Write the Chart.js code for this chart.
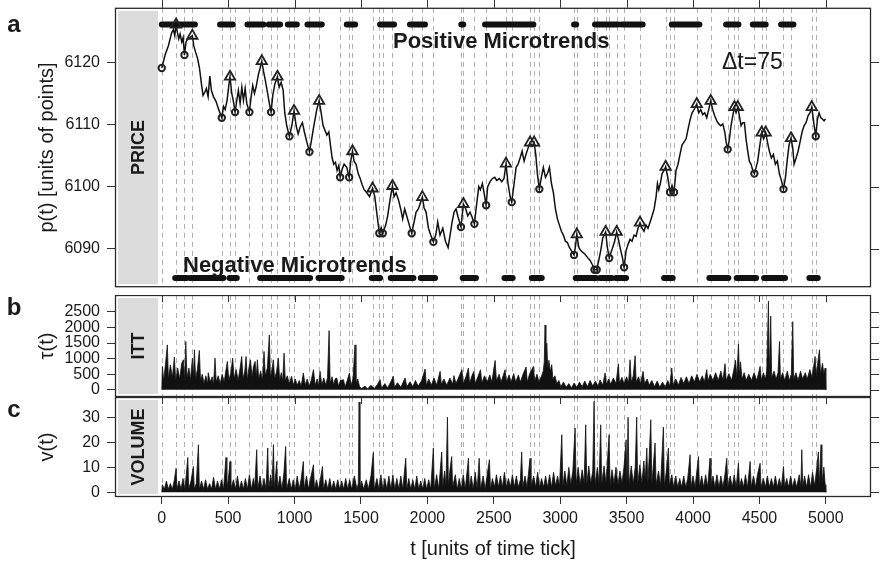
<!DOCTYPE html>
<html>
<head>
<meta charset="utf-8">
<script src="https://cdn.jsdelivr.net/npm/chart.js@4.4.1/dist/chart.umd.min.js"></script>
<style>
  html, body { margin: 0; padding: 0; background: #fff; }
  #wrap { position: relative; width: 882px; height: 564px; overflow: hidden; }
  #wrap canvas { position: absolute; left: 0; }
</style>
</head>
<body>
<div id="wrap">
  <canvas id="cPrice" width="882" height="295" style="top:0px"></canvas>
  <canvas id="cItt" width="882" height="102" style="top:295px"></canvas>
  <canvas id="cVol" width="882" height="167" style="top:397px"></canvas>
</div>
<script>
// ---- time axis ----
const timeTicks = [0, 500, 1000, 1500, 2000, 2500, 3000, 3500, 4000, 4500, 5000];
const T_MIN = -352, T_MAX = 5340;

// ---- price p(t) ----
const priceTicks = [6090, 6100, 6110, 6120];
const PRICE_MIN = 6083.8, PRICE_MAX = 6128.8;
const pricePath = [
  [0,6119.1],[25,6121.2],[50,6122.7],[63,6123.8],[75,6124.8],[88,6125.3],[98,6124.3],[108,6126.1],
  [118,6124.8],[128,6123.8],[138,6124.6],[151,6123.3],[161,6124.0],[171,6121.2],[183,6123.3],[196,6123.8],
  [213,6124.0],[230,6124.3],[241,6122.7],[254,6121.7],[269,6120.7],[284,6119.1],[299,6116.5],[311,6114.7],
  [324,6115.2],[336,6115.8],[349,6114.5],[362,6117.8],[374,6115.5],[389,6114.5],[409,6113.7],[429,6112.4],
  [452,6111.1],[465,6112.9],[477,6112.4],[492,6113.9],[505,6116.3],[514,6117.7],[527,6115.0],[540,6113.7],
  [552,6112.0],[565,6113.9],[577,6115.5],[590,6113.4],[603,6116.0],[615,6113.9],[628,6115.8],[640,6113.4],
  [660,6112.0],[673,6114.5],[685,6116.3],[698,6115.0],[710,6116.0],[728,6118.1],[741,6119.1],[753,6120.2],
  [766,6118.6],[778,6117.3],[791,6115.8],[806,6113.9],[823,6112.0],[836,6114.7],[851,6116.5],[871,6117.7],
  [884,6116.0],[899,6116.8],[914,6115.5],[926,6111.9],[941,6109.8],[961,6108.1],[979,6109.8],[996,6112.2],
  [1012,6109.8],[1027,6108.5],[1042,6109.6],[1059,6110.3],[1074,6108.8],[1092,6107.2],[1112,6105.6],[1130,6107.8],
  [1145,6109.8],[1167,6112.4],[1185,6113.8],[1200,6111.9],[1215,6109.8],[1230,6109.0],[1243,6108.3],[1258,6108.8],
  [1270,6106.7],[1283,6104.6],[1295,6103.6],[1308,6103.9],[1320,6102.6],[1333,6103.4],[1343,6101.5],[1358,6102.8],
  [1373,6103.6],[1393,6103.1],[1411,6101.5],[1423,6104.1],[1436,6105.7],[1448,6104.1],[1463,6103.6],[1479,6102.1],
  [1494,6101.3],[1509,6100.3],[1524,6099.5],[1544,6099.0],[1564,6098.4],[1587,6099.7],[1604,6098.4],[1620,6095.6],
  [1638,6092.5],[1652,6093.4],[1664,6092.5],[1686,6093.8],[1701,6095.3],[1719,6097.9],[1737,6100.1],[1749,6098.4],
  [1764,6099.0],[1782,6097.9],[1799,6096.4],[1814,6094.8],[1829,6096.4],[1844,6095.3],[1864,6093.8],[1882,6092.5],
  [1900,6094.3],[1915,6095.9],[1932,6096.4],[1945,6097.2],[1962,6098.3],[1975,6096.6],[1990,6095.9],[2008,6093.3],
  [2025,6092.2],[2045,6091.1],[2063,6092.2],[2078,6094.3],[2095,6092.2],[2116,6093.3],[2136,6091.2],[2156,6090.2],
  [2171,6092.2],[2186,6094.3],[2201,6095.9],[2216,6096.4],[2231,6095.1],[2253,6093.5],[2271,6097.2],[2289,6096.4],
  [2304,6095.3],[2321,6095.9],[2336,6095.1],[2354,6094.0],[2372,6097.4],[2387,6100.0],[2399,6099.5],[2414,6100.5],
  [2427,6099.0],[2442,6097.0],[2454,6100.0],[2472,6100.8],[2489,6101.3],[2507,6101.5],[2522,6101.0],[2542,6101.3],
  [2560,6100.8],[2577,6101.3],[2592,6103.7],[2607,6100.5],[2623,6098.4],[2635,6097.5],[2653,6100.5],[2668,6103.1],
  [2683,6103.6],[2698,6104.6],[2713,6105.7],[2728,6104.1],[2743,6105.2],[2758,6106.2],[2773,6107.1],[2788,6106.5],
  [2803,6107.1],[2816,6105.2],[2828,6102.1],[2843,6099.6],[2858,6101.5],[2873,6103.1],[2889,6101.5],[2904,6102.1],
  [2919,6103.1],[2934,6100.5],[2949,6099.0],[2964,6096.4],[2979,6094.8],[2994,6093.8],[3009,6092.8],[3024,6092.2],
  [3039,6091.2],[3054,6091.0],[3069,6090.2],[3084,6089.7],[3104,6089.0],[3114,6090.2],[3125,6092.3],[3140,6090.2],
  [3155,6089.7],[3170,6089.4],[3187,6089.1],[3205,6088.6],[3225,6088.1],[3245,6087.3],[3258,6086.6],[3275,6086.6],
  [3290,6088.1],[3305,6089.7],[3320,6091.7],[3342,6092.7],[3355,6090.2],[3369,6088.5],[3395,6090.2],[3410,6091.2],
  [3425,6092.7],[3441,6091.2],[3456,6089.7],[3468,6088.6],[3481,6087.0],[3496,6089.7],[3511,6090.7],[3526,6091.5],
  [3541,6091.2],[3556,6092.2],[3571,6092.0],[3586,6093.3],[3601,6094.2],[3616,6093.3],[3631,6092.8],[3646,6093.8],
  [3661,6093.3],[3677,6094.3],[3692,6095.3],[3707,6096.4],[3722,6098.4],[3732,6100.5],[3742,6099.5],[3754,6100.5],
  [3767,6102.1],[3782,6102.6],[3794,6103.2],[3810,6101.5],[3827,6099.1],[3842,6100.2],[3857,6099.1],[3872,6102.6],
  [3887,6103.6],[3902,6105.2],[3917,6106.7],[3933,6107.2],[3948,6107.7],[3963,6109.3],[3978,6110.8],[3993,6111.9],
  [4008,6112.4],[4028,6113.3],[4043,6111.9],[4058,6112.4],[4073,6111.6],[4088,6111.9],[4103,6111.1],[4118,6112.4],
  [4133,6113.8],[4148,6112.4],[4163,6111.4],[4179,6110.6],[4194,6110.1],[4209,6109.8],[4224,6110.1],[4239,6108.8],
  [4249,6107.2],[4261,6106.0],[4274,6107.7],[4286,6109.8],[4299,6111.4],[4312,6112.8],[4324,6111.9],[4337,6112.8],
  [4349,6111.4],[4362,6109.8],[4374,6110.3],[4387,6110.3],[4399,6107.7],[4412,6105.7],[4424,6104.1],[4437,6103.6],
  [4450,6102.6],[4462,6102.1],[4475,6103.1],[4487,6104.1],[4500,6106.2],[4517,6108.7],[4532,6107.7],[4547,6108.7],
  [4560,6107.2],[4575,6105.7],[4590,6104.6],[4605,6105.2],[4620,6103.6],[4635,6104.1],[4650,6102.1],[4665,6101.0],
  [4681,6099.6],[4696,6101.5],[4711,6104.6],[4723,6106.7],[4738,6107.8],[4751,6106.2],[4761,6103.6],[4776,6104.6],
  [4791,6105.7],[4806,6107.2],[4821,6108.8],[4836,6109.8],[4851,6110.3],[4866,6111.4],[4881,6111.9],[4894,6112.8],
  [4909,6110.3],[4924,6108.1],[4937,6110.9],[4949,6111.9],[4962,6111.1],[4974,6110.9],[4987,6110.6],[4997,6110.9]
];

// local maxima (triangles) and minima (circles) of the price
const priceMaxima = [
  [108,6126.1],[230,6124.3],[514,6117.7],[753,6120.2],[871,6117.7],[996,6112.2],[1185,6113.8],[1436,6105.7],
  [1587,6099.7],[1737,6100.1],[1962,6098.3],[2271,6097.2],[2592,6103.7],[2773,6107.1],[2803,6107.1],[3125,6092.3],
  [3342,6092.7],[3425,6092.7],[3601,6094.2],[3794,6103.2],[4028,6113.3],[4133,6113.8],[4312,6112.8],[4337,6112.8],
  [4517,6108.7],[4547,6108.7],[4738,6107.8],[4894,6112.8]
];
const priceMinima = [
  [0,6119.1],[171,6121.2],[452,6111.1],[552,6112.0],[660,6112.0],[823,6112.0],[961,6108.1],[1112,6105.6],
  [1343,6101.5],[1411,6101.5],[1638,6092.5],[1664,6092.5],[1882,6092.5],[2045,6091.1],[2253,6093.5],[2354,6094.0],
  [2442,6097.0],[2635,6097.5],[2843,6099.6],[3104,6089.0],[3258,6086.6],[3275,6086.6],[3369,6088.5],[3481,6087.0],
  [3827,6099.1],[3857,6099.1],[4261,6106.0],[4462,6102.1],[4681,6099.6],[4924,6108.1]
];

// microtrend intervals [start, end] and the price levels their bars are drawn at
const positiveTrends = [
  [0,250],[439,535],[645,766],[806,891],[949,1017],[1097,1205],[1393,1456],[1644,1749],[1869,1982],
  [2255,2270],[2434,2610],[2616,2798],[3104,3120],[3262,3438],[3463,3621],[3840,4048],[4249,4342],
  [4450,4547],[4663,4756]
];
const negativeTrends = [
  [101,188],[213,464],[510,565],[741,841],[854,979],[992,1117],[1180,1355],[1581,1644],[1724,1895],
  [1950,2058],[2266,2366],[2580,2642],[2786,2861],[3117,3270],[3300,3388],[3420,3496],[3782,3847],
  [4123,4266],[4329,4475],[4535,4693],[4876,4939]
];
const POS_LEVEL = 6126.1, NEG_LEVEL = 6085.3;

// ---- inter-trade time tau(t) ----
const ittTicks = [0, 500, 1000, 1500, 2000, 2500];
const ITT_MIN = -229, ITT_MAX = 3041;
const ittSamples = [
  [0,0],[5,750],[15,300],[30,900],[42,1442],[50,350],[65,800],[80,400],[95,1050],[105,300],[120,700],[135,350],
  [150,850],[163,964],[172,300],[181,1549],[190,400],[205,700],[215,300],[231,1017],[238,400],[246,1283],[255,350],
  [268,650],[283,1262],[292,300],[305,500],[318,200],[332,450],[345,180],[350,550],[365,250],[380,420],[390,150],
  [401,1017],[410,250],[425,450],[440,200],[455,500],[470,250],[482,600],[494,911],[505,300],[520,550],[534,1017],
  [545,350],[560,650],[575,300],[590,700],[602,1071],[612,350],[625,600],[635,1071],[645,300],[656,700],[668,964],
  [680,400],[690,750],[703,911],[712,400],[720,964],[730,350],[745,600],[758,300],[770,1230],[780,450],[795,700],
  [810,1761],[818,400],[830,650],[840,964],[850,350],[865,600],[878,1017],[888,300],[900,550],[910,250],[921,1177],
  [930,300],[945,450],[960,200],[978,434],[990,150],[1005,350],[1020,150],[1035,300],[1050,120],[1066,540],[1080,150],
  [1095,350],[1110,120],[1125,300],[1142,646],[1155,150],[1170,350],[1180,120],[1192,593],[1205,150],[1220,380],
  [1235,150],[1248,400],[1260,1899],[1268,200],[1282,420],[1295,150],[1305,350],[1318,380],[1330,120],[1345,300],
  [1368,327],[1380,100],[1395,280],[1413,540],[1425,150],[1440,350],[1455,1442],[1462,200],[1475,350],[1490,100],
  [1505,40],[1530,120],[1550,30],[1575,150],[1600,40],[1625,180],[1644,327],[1655,50],[1680,200],[1700,60],
  [1720,220],[1744,434],[1752,80],[1775,230],[1800,80],[1832,380],[1845,100],[1870,260],[1890,90],[1910,300],
  [1930,120],[1955,280],[1983,667],[1992,150],[2010,350],[2030,150],[2050,380],[2070,150],[2096,593],[2105,180],
  [2125,350],[2145,150],[2170,380],[2190,180],[2200,455],[2215,200],[2235,400],[2260,646],[2270,200],[2290,420],
  [2309,700],[2318,200],[2335,450],[2350,593],[2360,200],[2380,420],[2400,646],[2410,220],[2430,450],[2450,250],
  [2470,480],[2485,250],[2510,943],[2520,280],[2540,500],[2555,250],[2570,450],[2585,646],[2595,250],[2615,480],
  [2630,250],[2650,520],[2665,250],[2685,480],[2700,250],[2720,500],[2743,731],[2752,250],[2770,520],[2798,752],
  [2808,280],[2825,500],[2840,250],[2860,450],[2872,600],[2880,900],[2886,2079],[2892,800],[2899,1496],[2906,700],
  [2915,950],[2925,600],[2936,805],[2945,350],[2960,450],[2975,200],[2990,300],[3005,100],[3025,250],[3045,80],
  [3065,200],[3085,60],[3105,220],[3125,80],[3145,250],[3165,100],[3185,280],[3205,100],[3225,300],[3245,120],
  [3265,280],[3285,120],[3300,320],[3320,150],[3338,540],[3348,180],[3365,350],[3380,180],[3400,380],[3420,200],
  [3438,837],[3446,220],[3465,400],[3480,200],[3500,420],[3515,220],[3526,964],[3535,250],[3550,450],[3564,1092],
  [3572,250],[3590,420],[3605,200],[3624,593],[3635,200],[3655,350],[3670,150],[3690,300],[3710,100],[3730,280],
  [3750,80],[3770,250],[3790,100],[3810,300],[3825,120],[3840,700],[3850,150],[3870,350],[3890,150],[3910,400],
  [3930,200],[3950,420],[3970,200],[3990,450],[4010,250],[4030,500],[4050,250],[4070,450],[4085,250],[4103,646],
  [4112,280],[4130,500],[4150,300],[4170,550],[4190,300],[4210,600],[4225,300],[4241,837],[4250,300],[4270,520],
  [4290,300],[4305,600],[4320,950],[4330,400],[4342,1474],[4350,450],[4358,900],[4368,350],[4385,550],[4400,300],
  [4420,500],[4440,300],[4460,550],[4480,300],[4505,752],[4515,300],[4530,550],[4545,350],[4555,600],[4568,2844],
  [4574,400],[4585,2366],[4592,400],[4610,600],[4625,350],[4640,550],[4651,1549],[4658,350],[4675,550],[4690,300],
  [4710,600],[4725,300],[4740,500],[4751,2186],[4758,350],[4775,550],[4790,300],[4810,600],[4825,350],[4845,550],
  [4860,350],[4880,650],[4895,400],[4910,800],[4919,1071],[4928,450],[4940,900],[4952,1283],[4960,500],[4975,850],
  [4985,500],[4995,700],[5000,0]
];

// ---- traded volume v(t) ----
const volumeTicks = [0, 10, 20, 30];
const VOL_MIN = -1.9, VOL_MAX = 38.1;
const volumeSamples = [
  [0,0],[5,3],[20,1.2],[35,4.5],[50,1.2],[65,3.5],[80,1.2],[95,5],[108,9.6],[115,1.2],[130,4.5],[145,1.2],
  [160,5.5],[175,1.2],[196,13.9],[203,1.2],[220,4.5],[238,10.3],[245,1.2],[260,3.5],[276,19],[283,1.2],[300,4.5],
  [315,1.2],[330,5],[345,1.2],[360,3.5],[375,1.2],[390,6],[405,1.2],[420,4.5],[435,1.2],[450,5],[465,1.2],
  [484,13.9],[490,1.2],[500,4.5],[514,12.3],[520,1.2],[540,5],[555,1.2],[570,6.5],[585,1.2],[600,4.5],[615,1.2],
  [630,5.5],[645,1.2],[660,7],[675,1.2],[690,5.5],[700,2],[715,17],[722,1.2],[740,6.5],[755,1.2],[770,5.5],
  [785,1.2],[798,17.7],[805,1.2],[820,7],[830,2],[841,19],[848,1.2],[866,12.3],[872,1.2],[890,6.5],[905,1.2],
  [920,8],[933,18.3],[940,1.2],[960,5.5],[975,1.2],[990,5],[1005,1.2],[1020,6.5],[1035,1.2],[1050,5.5],
  [1066,12.3],[1072,1.2],[1090,6.5],[1105,1.2],[1120,5.5],[1142,11],[1150,1.2],[1165,5],[1180,1.2],[1195,5.5],
  [1210,10.3],[1218,1.2],[1235,5],[1250,1.2],[1265,5.5],[1280,1.2],[1295,4.5],[1310,1.2],[1325,5],[1340,1.2],
  [1355,4.5],[1370,1.2],[1385,5.5],[1400,1.2],[1415,5],[1430,1.2],[1450,6.5],[1470,1.2],[1480,3.5],[1486,36.1],
  [1492,1.2],[1505,4.5],[1520,1.2],[1540,5],[1555,1.2],[1575,6.5],[1593,15.9],[1600,1.2],[1620,5.5],[1635,1.2],
  [1650,7],[1665,1.2],[1680,5.5],[1695,1.2],[1710,6.5],[1725,1.2],[1740,7],[1755,1.2],[1770,5.5],[1785,1.2],
  [1800,6.5],[1815,1.2],[1837,13.6],[1845,1.2],[1860,5.5],[1875,1.2],[1890,5],[1905,1.2],[1920,6.5],[1935,1.2],
  [1950,4.5],[1965,1.2],[1980,5.5],[1995,1.2],[2010,5],[2025,1.2],[2045,17.7],[2052,1.2],[2070,7],[2085,1.2],
  [2108,16.1],[2115,2],[2130,8.5],[2140,2.5],[2151,30],[2158,2.5],[2170,9],[2183,14.3],[2190,2],[2210,7],
  [2225,1.2],[2240,5.5],[2255,1.2],[2270,7],[2285,1.2],[2309,13.6],[2316,1.2],[2330,6.5],[2345,1.2],[2360,8],
  [2375,1.2],[2390,13.6],[2400,1.2],[2420,6.5],[2435,1.2],[2450,7],[2467,13],[2475,1.2],[2490,5.5],[2505,2],
  [2520,7],[2535,2],[2550,6.5],[2565,2],[2580,8],[2595,2],[2610,5.5],[2625,2],[2640,7],[2655,2],[2670,6.5],
  [2685,2],[2700,5],[2710,16.1],[2718,2],[2735,6.5],[2750,2],[2773,13.6],[2780,2],[2800,6.5],[2815,2],[2830,8],
  [2845,2],[2860,5.5],[2875,2],[2890,6.5],[2905,2],[2920,7],[2935,2],[2950,8],[2965,2.5],[2980,6.5],[2995,2.5],
  [3012,23],[3020,2.5],[3035,8.5],[3050,2.5],[3065,10],[3080,3],[3095,8.5],[3112,25.7],[3120,3],[3135,10],
  [3150,3],[3165,9],[3180,3.5],[3192,27],[3200,3],[3215,10.5],[3230,3.5],[3245,8.5],[3255,36.4],[3262,3],
  [3280,10],[3292,3.5],[3305,27],[3312,3],[3330,10.5],[3345,3.5],[3368,23],[3375,3],[3390,9],[3405,3.5],
  [3420,10],[3435,3],[3450,8.5],[3465,3.5],[3480,10],[3496,21],[3503,3.5],[3511,30],[3518,3],[3535,10.5],
  [3550,3.5],[3565,10],[3576,30],[3583,3],[3600,11],[3615,3.5],[3630,12.5],[3640,5],[3652,17.7],[3660,3.5],
  [3670,14],[3682,29],[3690,3.5],[3700,10],[3714,19.7],[3722,3],[3740,8.5],[3755,2.5],[3777,26.1],[3784,2.5],
  [3798,8],[3815,17.7],[3822,2.5],[3840,7],[3855,2],[3870,6.5],[3885,2],[3900,5.5],[3915,2],[3930,6.5],
  [3945,2],[3960,5.5],[3978,15],[3985,2],[4000,6.5],[4015,2],[4041,14.3],[4048,2],[4065,6.5],[4080,2],[4095,7],
  [4110,2],[4128,13.6],[4135,2],[4150,6.5],[4165,2],[4180,7],[4195,2],[4210,6.5],[4225,2],[4240,7],[4254,13.6],
  [4262,2],[4280,6.5],[4295,2],[4310,7],[4325,2],[4342,11.6],[4350,2],[4365,5.5],[4380,2],[4395,7],[4410,2],
  [4430,12.3],[4438,2],[4455,6.5],[4470,2],[4485,7],[4505,11.6],[4512,2],[4530,5.5],[4545,2],[4560,6.5],
  [4575,2],[4590,5.5],[4605,2],[4620,6.5],[4635,2],[4650,5.5],[4665,2],[4681,10.3],[4690,2],[4705,5.5],
  [4720,2],[4735,6.5],[4750,2],[4765,5.5],[4780,2],[4800,7],[4812,2],[4819,17],[4826,2],[4840,6.5],[4855,2],
  [4870,7],[4885,2],[4900,8],[4915,2.5],[4930,9],[4944,16.1],[4950,2.5],[4964,19],[4970,3],[4985,10],
  [4995,3],[5000,0]
];

// ---------------------------------------------------------------
const FONT = "'Liberation Sans', Arial, Helvetica, sans-serif";
const INK = '#1a1a1a';
const FRAME_RIGHT_PAD = 11;      // canvas width minus frame right edge
const extremaTimes = priceMaxima.concat(priceMinima).map(p => p[0]);

const toXY = arr => arr.map(([x, y]) => ({ x, y }));
const segments = (list, level) => list.flatMap(([a, b]) => [{ x: a, y: level }, { x: b, y: level }, { x: b, y: null }]);
const fixedTicks = arr => scale => { scale.ticks = arr.map(v => ({ value: v })); };

function timeScale(show) {
  const s = {
    type: 'linear', position: 'bottom', min: T_MIN, max: T_MAX, display: show,
    afterBuildTicks: fixedTicks(timeTicks)
  };
  if (show) {
    Object.assign(s, {
      afterFit: sc => { sc.height = 67; sc.paddingLeft = 0; sc.paddingRight = 0; },
      grid: { drawOnChartArea: false, drawTicks: true, tickLength: 7, color: '#333', lineWidth: 1 },
      border: { display: false },
      ticks: { autoSkip: false, maxRotation: 0, padding: 5, color: INK, font: { family: FONT, size: 16 }, callback: v => String(v) },
      title: { display: true, text: 't [units of time tick]', color: INK, font: { family: FONT, size: 20 }, padding: { top: 0, bottom: 3 } }
    });
  }
  return s;
}

function valueScale(min, max, ticks, title) {
  return {
    type: 'linear', position: 'left', min, max,
    afterBuildTicks: fixedTicks(ticks),
    afterFit: sc => { sc.width = 115; sc.paddingTop = 0; sc.paddingBottom = 0; },
    grid: { drawOnChartArea: false, drawTicks: true, tickLength: 8, color: '#333', lineWidth: 1 },
    border: { display: false },
    ticks: { autoSkip: false, padding: 7, color: INK, font: { family: FONT, size: 16, lineHeight: 1 }, callback: v => String(v) },
    title: { display: true, text: title, color: INK, font: { family: FONT, size: 20 }, padding: { top: 35, bottom: 0 } }
  };
}

// panel furniture: grey strip, dashed extrema lines, frame, mirrored ticks, labels
function panelDecor(opt) {
  return {
    id: 'panelDecor',
    beforeDatasetsDraw(chart) {
      const { ctx, chartArea: a, scales } = chart;
      ctx.save();
      ctx.fillStyle = '#dcdcdc';
      ctx.fillRect(a.left + 3, a.top + 3, 40, a.bottom - a.top - 6);
      ctx.strokeStyle = '#b0b0b0';
      ctx.lineWidth = 1;
      ctx.setLineDash([5, 4]);
      extremaTimes.forEach(t => {
        const x = Math.round(scales.x.getPixelForValue(t)) + 0.5;
        ctx.beginPath(); ctx.moveTo(x, a.top); ctx.lineTo(x, a.bottom); ctx.stroke();
      });
      ctx.restore();
    },
    afterDatasetsDraw(chart) {
      const { ctx, chartArea: a, scales } = chart;
      ctx.save();
      ctx.strokeStyle = '#2a2a2a';
      ctx.lineWidth = 1.3;
      ctx.strokeRect(a.left + 0.5, a.top + 0.5, a.right - a.left - 1, a.bottom - a.top - 1);
      ctx.lineWidth = 1;
      ctx.strokeStyle = '#333';
      // right-hand ticks
      opt.yTicks.forEach(v => {
        const y = Math.round(scales.y.getPixelForValue(v)) + 0.5;
        ctx.beginPath(); ctx.moveTo(a.right, y); ctx.lineTo(a.right + 8, y); ctx.stroke();
      });
      // ticks on the upper edge
      timeTicks.forEach(t => {
        const x = Math.round(scales.x.getPixelForValue(t)) + 0.5;
        ctx.beginPath();
        if (opt.topTicksUp) { ctx.moveTo(x, a.top); ctx.lineTo(x, a.top - 8); }
        else { ctx.moveTo(x, a.top); ctx.lineTo(x, a.top + 7); }
        ctx.stroke();
      });
      // strip label
      ctx.fillStyle = INK;
      ctx.font = `bold 18px ${FONT}`;
      ctx.textAlign = 'center';
      ctx.textBaseline = 'middle';
      ctx.save();
      ctx.translate(a.left + 23, (a.top + a.bottom) / 2);
      ctx.rotate(-Math.PI / 2);
      ctx.fillText(opt.strip, 0, 1);
      ctx.restore();
      // panel letter
      ctx.font = `bold 24px ${FONT}`;
      ctx.textAlign = 'center';
      ctx.fillText(opt.letter, 14, a.top + opt.letterDy);
      if (opt.extra) opt.extra(ctx, a);
      ctx.restore();
    }
  };
}

const baseOptions = (pad) => ({
  responsive: false,
  animation: false,
  events: [],
  layout: { padding: pad },
  plugins: { legend: { display: false }, tooltip: { enabled: false } }
});

// ---- panel a: price ----
new Chart(document.getElementById('cPrice'), {
  type: 'line',
  data: {
    datasets: [
      { data: toXY(priceMaxima), showLine: false, pointStyle: 'triangle', pointRadius: 6, pointBorderWidth: 1.8,
        pointBorderColor: '#222', pointBackgroundColor: 'rgba(0,0,0,0)', order: 0 },
      { data: toXY(priceMinima), showLine: false, pointStyle: 'circle', pointRadius: 3.2, pointBorderWidth: 2,
        pointBorderColor: '#222', pointBackgroundColor: 'rgba(0,0,0,0)', order: 0 },
      { data: toXY(pricePath), borderColor: '#111', borderWidth: 1.5, pointRadius: 0, tension: 0, order: 1 },
      { data: segments(positiveTrends, POS_LEVEL), borderColor: '#111', borderWidth: 6, borderCapStyle: 'round',
        pointRadius: 0, spanGaps: false, order: 2 },
      { data: segments(negativeTrends, NEG_LEVEL), borderColor: '#111', borderWidth: 6, borderCapStyle: 'round',
        pointRadius: 0, spanGaps: false, order: 2 }
    ]
  },
  options: Object.assign(baseOptions({ top: 4, bottom: 0, left: 0, right: FRAME_RIGHT_PAD }), {
    scales: { x: timeScale(false), y: valueScale(PRICE_MIN, PRICE_MAX, priceTicks, 'p(t) [units of points]') }
  }),
  plugins: [panelDecor({
    yTicks: priceTicks, topTicksUp: true, strip: 'PRICE', letter: 'a', letterDy: 18,
    extra(ctx) {
      ctx.fillStyle = INK;
      ctx.textAlign = 'left';
      ctx.textBaseline = 'alphabetic';
      ctx.font = `bold 22px ${FONT}`;
      ctx.fillText('Positive Microtrends', 393, 48);
      ctx.fillText('Negative Microtrends', 183, 272);
      ctx.font = `23px ${FONT}`;
      ctx.fillText('\u0394t=75', 722, 69);
    }
  })]
});

// ---- panel b: inter-trade time ----
new Chart(document.getElementById('cItt'), {
  type: 'line',
  data: {
    datasets: [
      { data: toXY(ittSamples), borderColor: '#111', backgroundColor: '#111', borderWidth: 0.8,
        pointRadius: 0, tension: 0, fill: 'origin' }
    ]
  },
  options: Object.assign(baseOptions({ top: 0, bottom: 0, left: 0, right: FRAME_RIGHT_PAD }), {
    scales: { x: timeScale(false), y: valueScale(ITT_MIN, ITT_MAX, ittTicks, '\u03c4(t)') }
  }),
  plugins: [panelDecor({ yTicks: ittTicks, topTicksUp: false, strip: 'ITT', letter: 'b', letterDy: 13 })]
});

// ---- panel c: volume ----
new Chart(document.getElementById('cVol'), {
  type: 'line',
  data: {
    datasets: [
      { data: toXY(volumeSamples), borderColor: '#111', backgroundColor: '#111', borderWidth: 0.8,
        pointRadius: 0, tension: 0, fill: 'origin' }
    ]
  },
  options: Object.assign(baseOptions({ top: 0, bottom: 0, left: 0, right: FRAME_RIGHT_PAD }), {
    scales: { x: timeScale(true), y: valueScale(VOL_MIN, VOL_MAX, volumeTicks, 'v(t)') }
  }),
  plugins: [panelDecor({ yTicks: volumeTicks, topTicksUp: false, strip: 'VOLUME', letter: 'c', letterDy: 13 })]
});
</script>
</body>
</html>
